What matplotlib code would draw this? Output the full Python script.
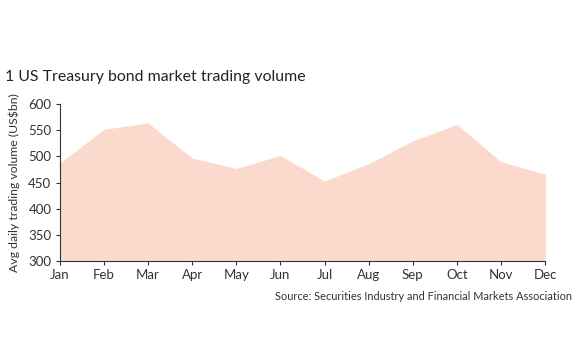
import matplotlib
matplotlib.use("Agg")
import matplotlib.pyplot as plt

plt.rcParams['font.family'] = ['Lato', 'DejaVu Sans']

months = ["Jan", "Feb", "Mar", "Apr", "May", "Jun", "Jul", "Aug", "Sep", "Oct", "Nov", "Dec"]
volume = [487, 552, 564, 497, 477, 502, 453, 486, 530, 561, 490, 466]
yticks = [300, 350, 400, 450, 500, 550, 600]

fig = plt.figure(figsize=(5.8, 3.58), dpi=100)
ax = fig.add_axes([0.103, 0.271, 0.837, 0.438])

x = list(range(len(months)))
ax.fill_between(x, 300, volume, color="#fbdacd", linewidth=0)

ax.set_xlim(0, len(months) - 1)
ax.set_ylim(300, 600)
ax.set_xticks(x)
ax.set_xticklabels(months)
ax.set_yticks(yticks)

for s in ["top", "right"]:
    ax.spines[s].set_visible(False)
for s in ["left", "bottom"]:
    ax.spines[s].set_color("#333333")
    ax.spines[s].set_linewidth(0.8)
ax.tick_params(axis="both", colors="#333333", labelsize=9.5, length=3, width=0.8)
ax.tick_params(axis="x", pad=3)
ax.tick_params(axis="y", pad=3)
ax.set_ylabel("Avg daily trading volume (US$bn)", fontsize=8.8, color="#333333")
ax.yaxis.set_label_coords(-0.082, 0.5)

fig.text(0.009, 0.785, "1 US Treasury bond market trading volume", fontsize=11.4, color="#222222", va="center")
fig.text(0.986, 0.173, "Source: Securities Industry and Financial Markets Association", fontsize=7.9, color="#333333", ha="right", va="center")

fig.savefig("out.png", dpi=100)
